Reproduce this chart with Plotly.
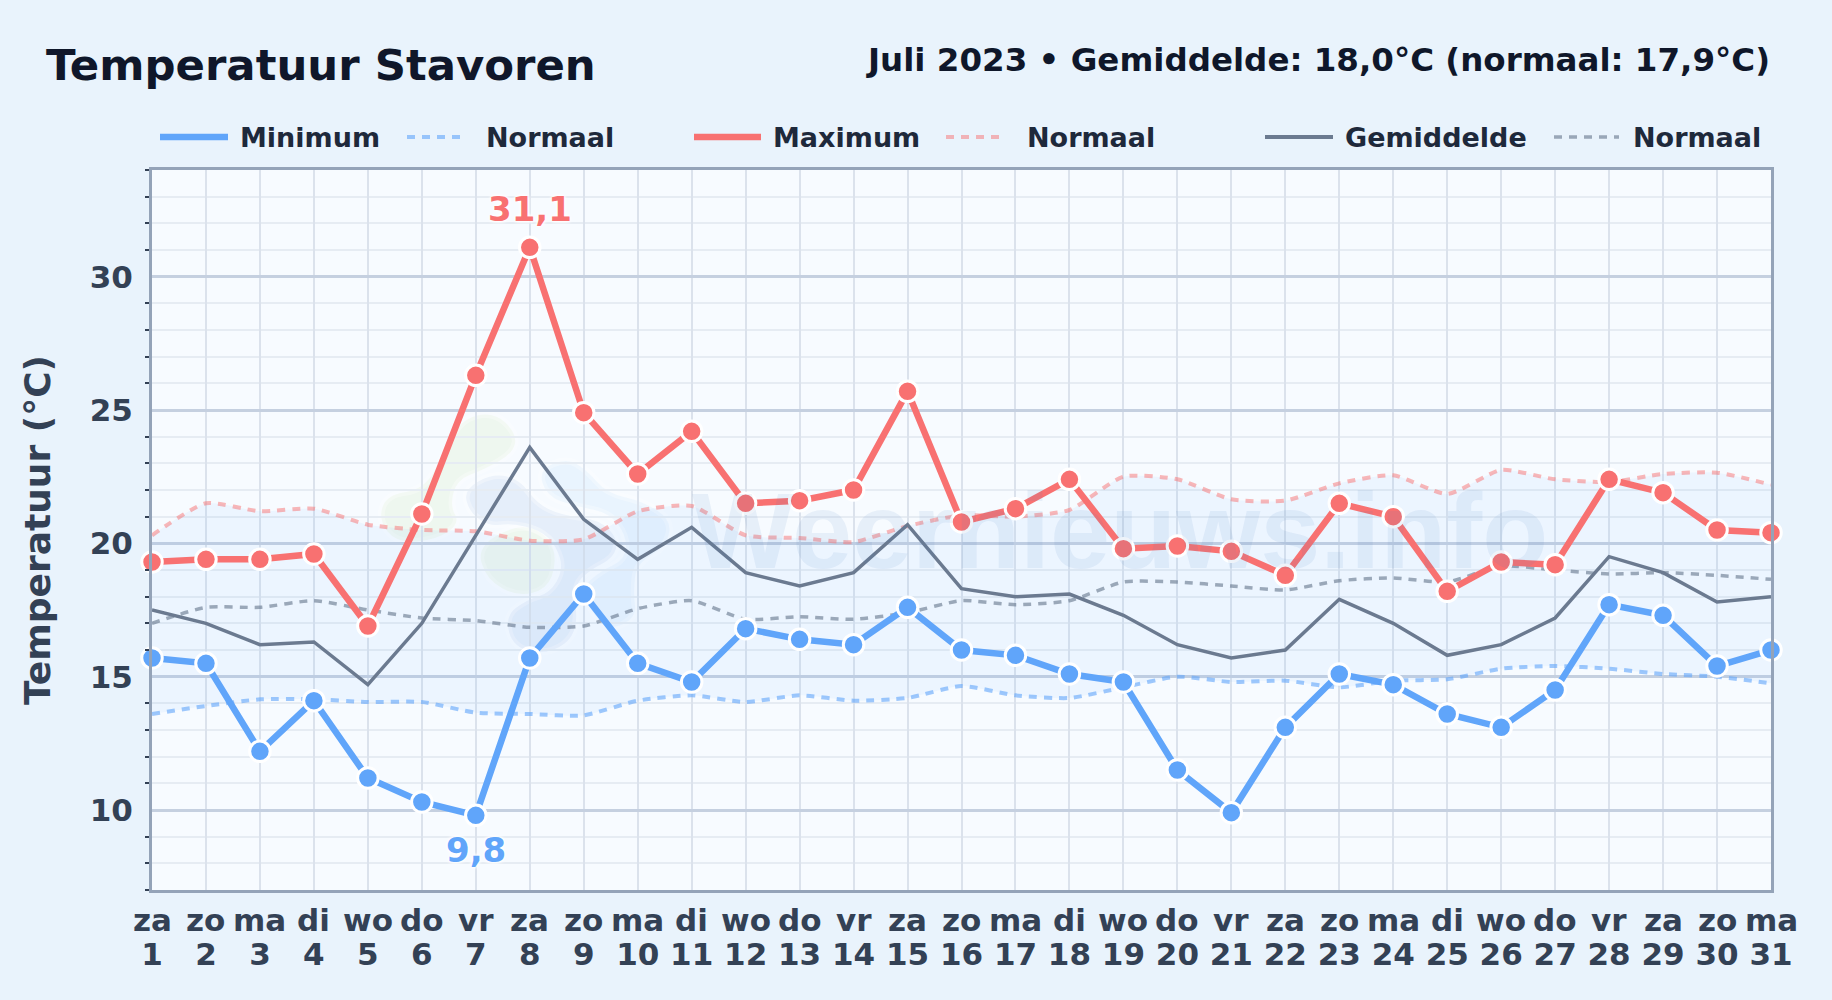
import plotly.graph_objects as go

days = list(range(1, 32))
weekdays = ["za","zo","ma","di","wo","do","vr","za","zo","ma","di","wo","do","vr","za","zo","ma","di","wo","do","vr","za","zo","ma","di","wo","do","vr","za","zo","ma"]
t_max = [19.3,19.4,19.4,19.6,16.9,21.1,26.3,31.1,24.9,22.6,24.2,21.5,21.6,22.0,25.7,20.8,21.3,22.4,19.8,19.9,19.7,18.8,21.5,21.0,18.2,19.3,19.2,22.4,21.9,20.5,20.4]
t_min = [15.7,15.5,12.2,14.1,11.2,10.3,9.8,15.7,18.1,15.5,14.8,16.8,16.4,16.2,17.6,16.0,15.8,15.1,14.8,11.5,9.9,13.1,15.1,14.7,13.6,13.1,14.5,17.7,17.3,15.4,16.0]
t_mean = [17.5,17.0,16.2,16.3,14.7,17.0,20.3,23.6,20.9,19.4,20.6,18.9,18.4,18.9,20.7,18.3,18.0,18.1,17.3,16.2,15.7,16.0,17.9,17.0,15.8,16.2,17.2,19.5,18.9,17.8,18.0]
norm_max = [20.3,21.5,21.2,21.3,20.7,20.5,20.45,20.1,20.15,21.2,21.4,20.3,20.2,20.05,20.65,21.05,21.0,21.25,22.5,22.4,21.65,21.6,22.25,22.55,21.85,22.75,22.4,22.3,22.6,22.65,22.2]
norm_mean = [17.0,17.6,17.6,17.85,17.5,17.2,17.1,16.85,16.9,17.55,17.85,17.15,17.25,17.15,17.4,17.85,17.7,17.85,18.55,18.55,18.4,18.25,18.6,18.7,18.55,19.15,19.0,18.85,18.9,18.8,18.65]
norm_min = [13.6,13.9,14.15,14.15,14.05,14.05,13.65,13.6,13.55,14.1,14.3,14.05,14.3,14.1,14.2,14.65,14.3,14.2,14.6,15.0,14.8,14.85,14.6,14.85,14.9,15.3,15.4,15.3,15.1,15.0,14.75]

C_MIN, C_MAX, C_MEAN = "#60a5fa", "#f87171", "#6b7a90"
N_MIN, N_MAX, N_MEAN = "rgba(96,165,250,0.6)", "rgba(248,113,113,0.5)", "rgba(100,116,139,0.6)"
FONT = "DejaVu Sans"
W, H = 1832, 1000
L, R, T, B = 152, 1771, 170, 890.5

def px(x): return (x - L) / (R - L)
def py(y): return (B - y) / (B - T)

fig = go.Figure()

def spline(y, color, width, fill=None, name="Normaal"):
    fig.add_trace(go.Scatter(x=days, y=y, mode="lines", name=name, cliponaxis=False,
                             line=dict(color=color, width=width, dash="8px,7px", shape="spline", smoothing=0.6),
                             fill=fill, fillcolor="rgba(96,165,250,0.07)"))

spline(norm_max, N_MAX, 4)
spline(norm_min, N_MIN, 4, fill="tonexty")
spline(norm_mean, N_MEAN, 3.5)
fig.add_trace(go.Scatter(x=days, y=t_mean, mode="lines", name="Gemiddelde", cliponaxis=False,
                         line=dict(color=C_MEAN, width=3.5)))
for y, c, n in ((t_min, C_MIN, "Minimum"), (t_max, C_MAX, "Maximum")):
    fig.add_trace(go.Scatter(x=days, y=y, mode="lines+markers", name=n, cliponaxis=False,
                             line=dict(color=c, width=6.5),
                             marker=dict(color=c, size=20.5, line=dict(color="#ffffff", width=3))))

# watermark blobs (decoration, page pixels)
def blob(points, ox=360, oy=390):
    p = [(ox + a / 3, oy + b / 3) for a, b in points]
    n = len(p)
    mid = lambda i: ((p[i][0] + p[(i + 1) % n][0]) / 2, (p[i][1] + p[(i + 1) % n][1]) / 2)
    m0 = mid(n - 1)
    d = f"M {px(m0[0]):.4f} {py(m0[1]):.4f}"
    for i in range(n):
        m = mid(i)
        d += f" Q {px(p[i][0]):.4f} {py(p[i][1]):.4f} {px(m[0]):.4f} {py(m[1]):.4f}"
    return d + " Z"

blobs = [
    ([(300,90),(400,65),(470,130),(460,190),(370,240),(290,270),(270,350),(300,400),(230,450),(110,460),(55,390),(80,315),(190,300),(250,200)], "rgba(190,225,150,0.15)"),
    ([(350,470),(480,400),(570,440),(590,520),(560,600),(470,620),(380,570)], "rgba(190,225,150,0.15)"),
    ([(310,300),(400,250),(480,270),(530,340),(600,375),(720,390),(775,450),(760,505),(690,540),(640,590),(655,730),(570,795),(460,775),(435,680),(500,630),(570,610),(610,540),(590,470),(540,420),(450,400),(390,410),(330,370)], "rgba(100,150,210,0.12)"),
    ([(535,240),(620,205),(680,240),(740,310),(850,335),(935,390),(920,470),(830,520),(820,610),(830,680),(760,720),(710,690),(660,600),(720,545),(795,510),(800,440),(750,370),(650,350),(560,320)], "rgba(120,190,250,0.10)"),
]
shapes = [dict(type="path", path=blob(pts), xref="paper", yref="paper", fillcolor=col,
               line=dict(width=7, color="rgba(255,255,255,0.3)"), layer="below") for pts, col in blobs]

# legend drawn by hand to keep the original's uneven spacing
legend_y = py(137)
legend = [
    (160, 228, C_MIN, 6.5, None, 238, "Minimum"),
    (407, 465, N_MIN, 4, "8px,7px", 484, "Normaal"),
    (694, 761, C_MAX, 6.5, None, 771, "Maximum"),
    (946, 1005, N_MAX, 4, "8px,7px", 1025, "Normaal"),
    (1265, 1333, C_MEAN, 4, None, 1343, "Gemiddelde"),
    (1554, 1619, N_MEAN, 3.5, "8px,7px", 1631, "Normaal"),
]
ann = []
for x0, x1, c, w, dash, tx, label in legend:
    shapes.append(dict(type="line", xref="paper", yref="paper", x0=px(x0), x1=px(x1), y0=legend_y, y1=legend_y,
                       line=dict(color=c, width=w, dash=dash)))
    ann.append(dict(xref="paper", yref="paper", x=px(tx), y=legend_y, xanchor="left", yanchor="middle", showarrow=False,
                    text=f"<b>{label}</b>", font=dict(family=FONT, size=27, color="#1e293b")))

HALO = "0 0 3px #fff, 0 0 3px #fff, 0 0 4px #fff, 0 0 5px #fff"
ann += [
    dict(xref="paper", yref="paper", x=px(44), y=py(64.5), xanchor="left", yanchor="middle", showarrow=False,
         text="<b>Temperatuur Stavoren</b>", font=dict(family=FONT, size=43.4, color="#0f172a")),
    dict(xref="paper", yref="paper", x=px(1772), y=py(60), xanchor="right", yanchor="middle", showarrow=False,
         text="<b>Juli 2023 • Gemiddelde: 18,0°C (normaal: 17,9°C)</b>", font=dict(family=FONT, size=32.5, color="#0f172a")),
    dict(xref="paper", yref="paper", x=px(1120), y=py(531), xanchor="center", yanchor="middle", showarrow=False,
         text="<b>Weernieuws.info</b>", font=dict(family="Liberation Sans", size=108, color="rgba(70,130,190,0.095)")),
    dict(xref="x", yref="y", x=days[t_max.index(max(t_max))], y=max(t_max), yshift=38, xanchor="center", yanchor="middle", showarrow=False,
         text="<b>31,1</b>", font=dict(family=FONT, size=34, color=C_MAX, shadow=HALO)),
    dict(xref="x", yref="y", x=days[t_min.index(min(t_min))], y=min(t_min), yshift=-35, xanchor="center", yanchor="middle", showarrow=False,
         text="<b>9,8</b>", font=dict(family=FONT, size=34, color=C_MIN, shadow=HALO)),
]
# weekday row above the day numbers
for d, wd in zip(days, weekdays):
    ann.append(dict(xref="x", yref="paper", x=d, y=py(921), xanchor="center", yanchor="middle", showarrow=False,
                    text=f"<b>{wd}</b>", font=dict(family=FONT, size=31, color="#334155")))

fig.update_layout(
    width=W, height=H, showlegend=False,
    paper_bgcolor="#e9f3fc", plot_bgcolor="#f7fbff",
    margin=dict(l=L, r=W - R, t=T, b=H - B),
    shapes=shapes, annotations=ann,
    font=dict(family=FONT),
)
fig.update_xaxes(range=[1, 31], tickmode="array", tickvals=days, ticktext=days,
                 tickangle=0, tickfont=dict(family=FONT, size=31, color="#334155", weight="bold"),
                 ticks="outside", ticklen=35, tickcolor="rgba(0,0,0,0)",
                 showgrid=True, gridcolor="#dbe2ec", gridwidth=2,
                 showline=True, mirror=True, linecolor="#94a3b8", linewidth=3, zeroline=False)
fig.update_yaxes(range=[7, 34], tick0=0, dtick=5, tickfont=dict(family=FONT, size=31, color="#334155", weight="bold"),
                 ticks="outside", ticklen=10, tickcolor="rgba(0,0,0,0)",
                 showgrid=True, gridcolor="#c5d0e0", gridwidth=2.5,
                 minor=dict(dtick=1, tick0=0, showgrid=True, gridcolor="#e6ecf3", gridwidth=2,
                            ticks="outside", ticklen=4, tickcolor="#334155", tickwidth=1.5),
                 showline=True, mirror=True, linecolor="#94a3b8", linewidth=3, zeroline=False,
                 title=dict(text="<b>Temperatuur (°C)</b>", font=dict(family=FONT, size=36, color="#334155"), standoff=29))

fig.write_html("out.html", config={"displayModeBar": False},
               post_script="document.body.style.margin='0';document.body.style.background='#e9f3fc';")
